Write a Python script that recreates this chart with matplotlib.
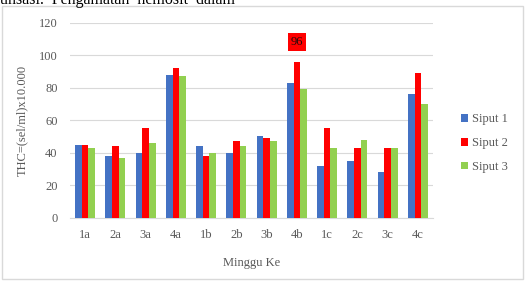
import matplotlib.pyplot as plt
import matplotlib.patches as mpatches
import numpy as np

plt.rcParams['font.family'] = ['Liberation Serif', 'DejaVu Serif']

minggu = ['1a', '2a', '3a', '4a', '1b', '2b', '3b', '4b', '1c', '2c', '3c', '4c']
siput1 = [45, 38, 40, 88, 44, 40, 50, 83, 32, 35, 28, 76]
siput2 = [45, 44, 55, 92, 38, 47, 49, 96, 55, 43, 43, 89]
siput3 = [43, 37, 46, 87, 40, 44, 47, 79, 43, 48, 43, 70]

warna = ['#4472C4', '#FF0000', '#92D050']
abu = '#595959'

fig = plt.figure(figsize=(5.31, 2.81), dpi=100)

# bingkai chart
fig.patches.append(mpatches.Rectangle((2 / 531, 2 / 281), 521 / 531, 273 / 281,
                                      transform=fig.transFigure, fill=False,
                                      edgecolor='#d9d9d9', linewidth=1))
# potongan teks dokumen di atas (terpotong di tepi atas, seperti aslinya)
fig.text(0.0, 1 - 4 / 281, 'unsasi.  Pengamatan  hemosit  dalam', fontsize=11.5,
         va='baseline', ha='left', color='black')

ax = fig.add_axes([70 / 531, (281 - 217.7) / 281, 363 / 531, 195 / 281])

x = np.arange(len(minggu))
w = 0.22
for i, (data, nama) in enumerate(zip([siput1, siput2, siput3], ['Siput 1', 'Siput 2', 'Siput 3'])):
    ax.bar(x + (i - 1) * w, data, w, color=warna[i], label=nama, zorder=3)

# label nilai tertinggi
imax = int(np.argmax(siput2))
ax.annotate(str(siput2[imax]), (x[imax], siput2[imax]), xytext=(0, 10),
            textcoords='offset points', ha='center', va='bottom', fontsize=9,
            color='#2a0a0a',
            bbox=dict(boxstyle='square,pad=0.25', fc='#FF0000', ec='none'))

ax.set_ylim(0, 120)
ax.set_yticks(range(0, 121, 20))
ax.set_xlim(-0.5, len(minggu) - 0.5)
ax.set_xticks(x)
ax.set_xticklabels(minggu)
ax.yaxis.grid(True, color='#d9d9d9', linewidth=0.8, zorder=0)
for s in ['top', 'right', 'left']:
    ax.spines[s].set_visible(False)
ax.spines['bottom'].set_color('#d9d9d9')
ax.tick_params(axis='both', length=0, labelsize=9, labelcolor=abu)
ax.tick_params(axis='x', pad=8)
ax.tick_params(axis='y', pad=9)

ax.set_xlabel('Minggu Ke', fontsize=9, color=abu, labelpad=12)
ax.set_ylabel('THC=(sel/ml)x10.000', fontsize=9, color=abu, labelpad=8)

ax.legend(loc='center left', bbox_to_anchor=(1.045, 0.383), frameon=False,
          fontsize=9, labelcolor=abu, handlelength=0.6, handleheight=0.6,
          handletextpad=0.3, labelspacing=0.95)

plt.savefig('out.png', dpi=100)
